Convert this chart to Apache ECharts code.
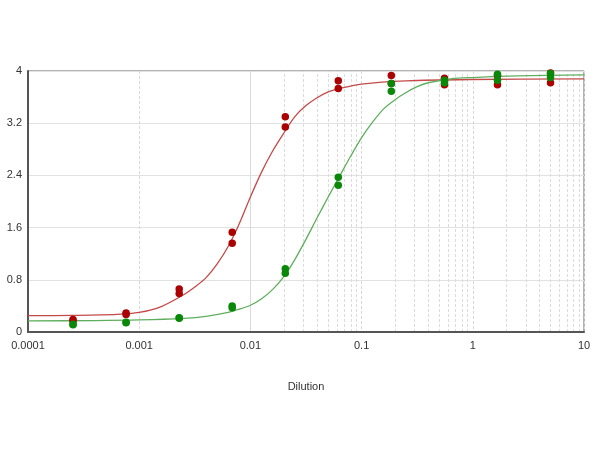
<!DOCTYPE html>
<html><head><meta charset="utf-8">
<script src="https://cdn.jsdelivr.net/npm/echarts@6/dist/echarts.min.js"></script>
<style>html,body{margin:0;padding:0;background:#fff}#c{width:600px;height:450px}</style>
</head><body><div id="c"></div>
<script>
// Dilutions (3-fold series)
var dilutions = [0.000254, 0.000762, 0.00229, 0.00686, 0.0206, 0.0617, 0.185, 0.556, 1.667, 5];
// Replicate readings
var redRep1   = [0.17, 0.29, 0.66, 1.53, 3.30, 3.85, 3.93, 3.89, 3.93, 3.97];
var redRep2   = [0.19, 0.27, 0.59, 1.36, 3.14, 3.73, 3.81, 3.79, 3.79, 3.82];
var greenRep1 = [0.11, 0.14, 0.21, 0.40, 0.97, 2.37, 3.81, 3.86, 3.95, 3.96];
var greenRep2 = [0.12, 0.15, 0.22, 0.37, 0.90, 2.25, 3.69, 3.82, 3.86, 3.90];
// Fitted curves
var redCurveX = [0.0001, 0.000251, 0.000631, 0.001, 0.00158, 0.00251, 0.00316, 0.00398, 0.00501, 0.00631, 0.00794, 0.01, 0.0126, 0.0158, 0.02, 0.0251, 0.0316, 0.0398, 0.0501, 0.0631, 0.1, 0.251, 1, 10];
var redCurveY = [0.25, 0.255, 0.27, 0.30, 0.39, 0.57, 0.69, 0.83, 1.04, 1.31, 1.66, 2.07, 2.45, 2.77, 3.05, 3.30, 3.47, 3.59, 3.68, 3.73, 3.80, 3.85, 3.87, 3.88];
var greenCurveX = [0.0001, 0.000398, 0.001, 0.00251, 0.00398, 0.00631, 0.00794, 0.01, 0.0126, 0.0158, 0.02, 0.0251, 0.0316, 0.0398, 0.0501, 0.0631, 0.0794, 0.1, 0.126, 0.158, 0.2, 0.251, 0.316, 0.398, 0.631, 1, 2.51, 10];
var greenCurveY = [0.17, 0.175, 0.185, 0.21, 0.24, 0.30, 0.35, 0.41, 0.51, 0.65, 0.85, 1.11, 1.42, 1.75, 2.07, 2.38, 2.69, 2.98, 3.22, 3.42, 3.56, 3.67, 3.76, 3.82, 3.88, 3.90, 3.925, 3.94];
// Axis
var xTickLabels = ['0.0001', '0.001', '0.01', '0.1', '1', '10'];
var yTicks = [0, 0.8, 1.6, 2.4, 3.2, 4];
var minorGridX = [];
[0.0001, 0.001, 0.01, 0.1, 1].forEach(function (d) { for (var k = 2; k <= 9; k++) minorGridX.push(+(d * k).toPrecision(3)); });

function zip(xs, ys) { return xs.map(function (x, i) { return [x, ys[i]]; }); }
var redPts = zip(dilutions, redRep1).concat(zip(dilutions, redRep2));
var greenPts = zip(dilutions, greenRep1).concat(zip(dilutions, greenRep2));

var chart = echarts.init(document.getElementById('c'));
var font = 'Liberation Sans, Arial, sans-serif';
chart.setOption({
  animation: false,
  grid: { left: 28, right: 16, top: 71, bottom: 118, show: true, borderColor: '#666', borderWidth: 1 },
  xAxis: {
    type: 'log', logBase: 10, min: 0.0001, max: 10,
    name: 'Dilution', nameLocation: 'middle', nameGap: 49,
    nameTextStyle: { color: '#333', fontSize: 11, fontFamily: font },
    axisLine: { lineStyle: { color: '#555', width: 2 } },
    axisTick: { show: false },
    axisLabel: { color: '#333', fontSize: 11, fontFamily: font, margin: 8,
      formatter: function (v) { var i = Math.round(Math.log10(v)) + 4; return xTickLabels[i] || ''; } },
    splitLine: { show: true, lineStyle: { color: '#d8d8d8', type: [3, 2] } }
  },
  yAxis: {
    type: 'value', min: 0, max: 4, interval: 0.8,
    axisLine: { show: true, lineStyle: { color: '#555', width: 2 } },
    axisTick: { show: false },
    axisLabel: { color: '#333', fontSize: 11, fontFamily: font, margin: 6,
      formatter: function (v) { var t = yTicks.filter(function (q) { return Math.abs(q - v) < 1e-6; })[0]; return t === undefined ? '' : String(t); } },
    splitLine: { show: true, lineStyle: { color: '#e2e2e2', width: 1 } }
  },
  series: [
    { type: 'line', data: [], silent: true, z: 0,
      markLine: { silent: true, symbol: 'none', z: 0, label: { show: false },
        lineStyle: { color: '#dcdcdc', type: [3, 2], width: 1 },
        emphasis: { disabled: true },
        data: minorGridX.map(function (x) { return { xAxis: x }; }) } },
    { type: 'line', data: zip(redCurveX, redCurveY), smooth: 0.3, showSymbol: false,
      lineStyle: { color: '#c44a4a', width: 1.3 }, z: 3 },
    { type: 'line', data: zip(greenCurveX, greenCurveY), smooth: 0.3, showSymbol: false,
      lineStyle: { color: '#5fae5f', width: 1.3 }, z: 3 },
    { type: 'scatter', data: redPts, symbolSize: 7.5, itemStyle: { color: '#aa0000', opacity: 1 }, z: 6 },
    { type: 'scatter', data: greenPts, symbolSize: 7.5, itemStyle: { color: '#0a880a', opacity: 1 }, z: 7 }
  ]
});
</script></body></html>
